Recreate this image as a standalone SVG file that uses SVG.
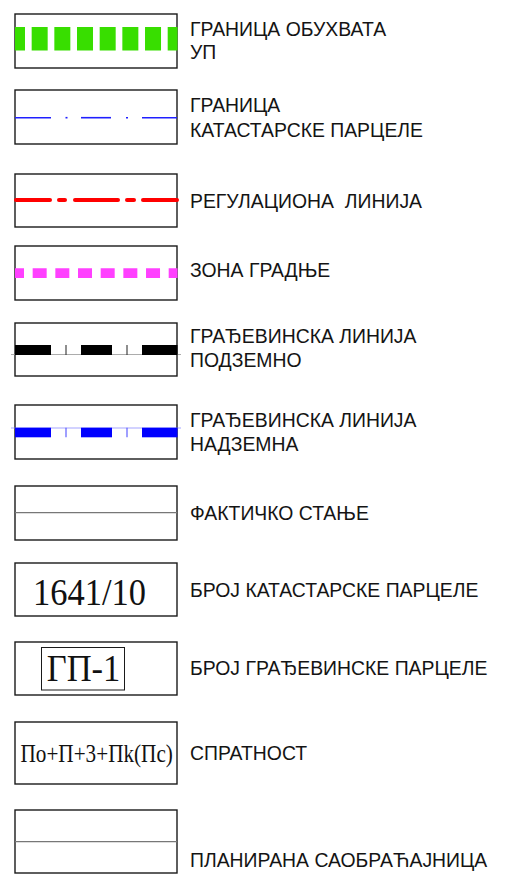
<svg xmlns="http://www.w3.org/2000/svg" width="509" height="877" viewBox="0 0 509 877">
  <style>
    .box { fill: #ffffff; stroke: #1a1a1a; stroke-width: 1.4; }
    .lbl { font-family: "Liberation Sans", Arial, sans-serif; font-size: 19.4px; fill: #141414; }
    .num { font-family: "Liberation Serif", "Times New Roman", serif; fill: #111111; }
    .mid { stroke: #777777; stroke-width: 1.3; }
  </style>
  <rect width="509" height="877" fill="#ffffff"/>

  <!-- plan boundary -->
  <g id="granica-obuhvata">
    <rect class="box" x="15" y="14" width="162" height="54"/>
    <line x1="15" y1="38.7" x2="177.5" y2="38.7" stroke="#38de00" stroke-width="23.5" stroke-dasharray="16 6.67" stroke-dashoffset="6"/>
    <text class="lbl" x="190" y="36">ГРАНИЦА ОБУХВАТА</text>
    <text class="lbl" x="190" y="59">УП</text>
  </g>

  <!-- cadastral parcel boundary -->
  <g id="granica-parcele">
    <rect class="box" x="15" y="90" width="162" height="54"/>
    <g stroke="#2020ff" stroke-width="1.6">
      <line x1="15" y1="117.7" x2="51" y2="117.7"/>
      <line x1="65.5" y1="117.7" x2="67.5" y2="117.7"/>
      <line x1="81" y1="117.7" x2="111" y2="117.7"/>
      <line x1="126" y1="117.7" x2="128" y2="117.7"/>
      <line x1="142" y1="117.7" x2="177" y2="117.7"/>
    </g>
    <text class="lbl" x="190" y="112">ГРАНИЦА</text>
    <text class="lbl" x="190" y="137">КАТАСТАРСКЕ ПАРЦЕЛЕ</text>
  </g>

  <!-- regulation line -->
  <g id="regulaciona-linija">
    <rect class="box" x="15" y="174" width="162" height="53"/>
    <g stroke="#ff0000" stroke-width="4" stroke-linecap="round">
      <line x1="16" y1="200" x2="50" y2="200"/>
      <line x1="59" y1="200" x2="65" y2="200"/>
      <line x1="75" y1="200" x2="118" y2="200"/>
      <line x1="127" y1="200" x2="134" y2="200"/>
      <line x1="143" y1="200" x2="177" y2="200"/>
    </g>
    <text class="lbl" x="190" y="208" xml:space="preserve">РЕГУЛАЦИОНА  ЛИНИЈА</text>
  </g>

  <!-- building zone -->
  <g id="zona-gradnje">
    <rect class="box" x="15" y="246" width="162" height="54"/>
    <line x1="15" y1="273.2" x2="177.5" y2="273.2" stroke="#ff40ff" stroke-width="9.7" stroke-dasharray="14 8.67" stroke-dashoffset="5"/>
    <text class="lbl" x="190" y="277">ЗОНА ГРАДЊЕ</text>
  </g>

  <!-- underground building line -->
  <g id="gradjevinska-podzemno">
    <rect class="box" x="15" y="323" width="162" height="53"/>
    <line x1="11" y1="354.5" x2="181" y2="354.5" stroke="#888888" stroke-width="0.7"/>
    <g fill="#000000">
      <rect x="15" y="345" width="36" height="10"/>
      <rect x="81" y="345" width="31" height="10"/>
      <rect x="142" y="345" width="35.5" height="10"/>
    </g>
    <g stroke="#333333" stroke-width="1.1">
      <line x1="66" y1="345" x2="66" y2="355"/>
      <line x1="127" y1="345" x2="127" y2="355"/>
    </g>
    <text class="lbl" x="190" y="343">ГРАЂЕВИНСКА ЛИНИЈА</text>
    <text class="lbl" x="190" y="367">ПОДЗЕМНО</text>
  </g>

  <!-- above-ground building line -->
  <g id="gradjevinska-nadzemna">
    <rect class="box" x="15" y="405" width="162" height="54"/>
    <line x1="11" y1="428" x2="181" y2="428" stroke="#8080ff" stroke-width="0.7"/>
    <g fill="#0000ff">
      <rect x="15" y="427.7" width="36" height="9.6"/>
      <rect x="81" y="427.7" width="31" height="9.6"/>
      <rect x="142" y="427.7" width="35.5" height="9.6"/>
    </g>
    <g stroke="#5050ff" stroke-width="1.1">
      <line x1="66" y1="427.7" x2="66" y2="437.3"/>
      <line x1="127" y1="427.7" x2="127" y2="437.3"/>
    </g>
    <text class="lbl" x="190" y="427">ГРАЂЕВИНСКА ЛИНИЈА</text>
    <text class="lbl" x="190" y="451">НАДЗЕМНА</text>
  </g>

  <!-- existing state -->
  <g id="fakticko-stanje">
    <rect class="box" x="15" y="486" width="162" height="54"/>
    <line class="mid" x1="15" y1="512.7" x2="177" y2="512.7"/>
    <text class="lbl" x="190" y="520">ФАКТИЧКО СТАЊЕ</text>
  </g>

  <!-- cadastral parcel number -->
  <g id="broj-katastarske">
    <rect class="box" x="15" y="563" width="162" height="53"/>
    <text class="num" transform="translate(33 605) scale(1 1.12)" x="0" y="0" font-size="34.5">1641/10</text>
    <text class="lbl" x="190" y="597">БРОЈ КАТАСТАРСКЕ ПАРЦЕЛЕ</text>
  </g>

  <!-- building parcel number -->
  <g id="broj-gradjevinske">
    <rect class="box" x="15" y="642" width="162" height="53"/>
    <rect x="41.5" y="647.5" width="83" height="42.5" fill="none" stroke="#1a1a1a" stroke-width="1"/>
    <text class="num" transform="translate(46.7 680.7) scale(1 1.08)" x="0" y="0" font-size="34.5">ГП-1</text>
    <text class="lbl" x="190" y="675">БРОЈ ГРАЂЕВИНСКЕ ПАРЦЕЛЕ</text>
  </g>

  <!-- storey count -->
  <g id="spratnost">
    <rect class="box" x="15" y="722" width="162" height="62"/>
    <text class="num" transform="translate(20.5 761.5) scale(1 1.18)" x="0" y="0" font-size="21.2">По+П+3+Пk(Пс)</text>
    <text class="lbl" x="190" y="760">СПРАТНОСТ</text>
  </g>

  <!-- planned road -->
  <g id="planirana-saobracajnica">
    <rect class="box" x="15" y="810" width="162" height="63"/>
    <line class="mid" x1="15" y1="841.7" x2="177" y2="841.7"/>
    <text class="lbl" x="190" y="867">ПЛАНИРАНА САОБРАЋАЈНИЦА</text>
  </g>

  <g id="connectors"/>
</svg>
